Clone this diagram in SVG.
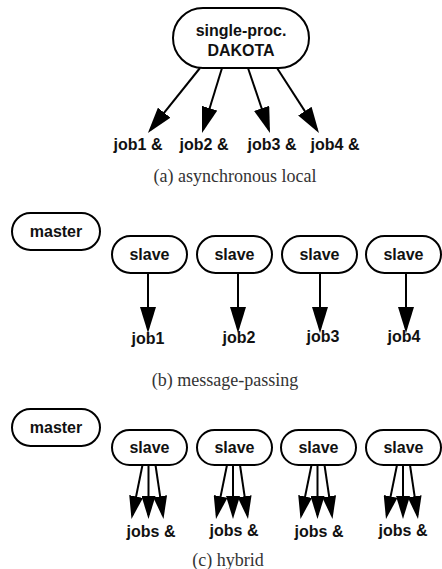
<svg xmlns="http://www.w3.org/2000/svg" width="442" height="569" viewBox="0 0 442 569">
<style>
.node{fill:#fff;stroke:#000;stroke-width:2}
.lbl{font-family:"Liberation Sans",Arial,sans-serif;font-weight:bold;font-size:16px;fill:#111;text-anchor:middle}
.cap{font-family:"Liberation Serif","Times New Roman",serif;font-size:18px;fill:#333;text-anchor:middle}
.edge{stroke:#000;stroke-width:2;fill:none}
.e1{marker-end:url(#ah)}
.e2{marker-end:url(#ah2)}
</style>
<defs>
<marker id="ah" markerUnits="userSpaceOnUse" markerWidth="26" markerHeight="16" viewBox="0 0 26 16" refX="22" refY="8" orient="auto"><path d="M0,0 L26,8 L0,16 z" fill="#000"/></marker>
<marker id="ah2" markerUnits="userSpaceOnUse" markerWidth="23" markerHeight="14" viewBox="0 0 23 14" refX="19" refY="7" orient="auto"><path d="M0,0 L23,7 L0,14 z" fill="#000"/></marker>
</defs>
<rect width="442" height="569" fill="#fff"/>
<g id="connectors">
<line class="edge e1" x1="200" y1="68" x2="150.4" y2="129.8"/>
<line class="edge e1" x1="222" y1="68" x2="203.2" y2="129.2"/>
<line class="edge e1" x1="248" y1="68" x2="268.7" y2="129.2"/>
<line class="edge e1" x1="277" y1="68" x2="316.8" y2="129.6"/>
<line class="edge e1" x1="148" y1="273" x2="148" y2="329"/>
<line class="edge e1" x1="238" y1="273" x2="238" y2="329"/>
<line class="edge e1" x1="320" y1="273" x2="320" y2="329"/>
<line class="edge e1" x1="406" y1="273" x2="406" y2="329"/>
<line class="edge e2" x1="142.5" y1="465" x2="132.3" y2="515.1"/>
<line class="edge e2" x1="148.5" y1="465" x2="148.5" y2="515"/>
<line class="edge e2" x1="155.5" y1="465" x2="162.9" y2="515.1"/>
<line class="edge e2" x1="227" y1="465" x2="216.8" y2="515.1"/>
<line class="edge e2" x1="233" y1="465" x2="233" y2="515"/>
<line class="edge e2" x1="240" y1="465" x2="247.4" y2="515.1"/>
<line class="edge e2" x1="311.5" y1="465" x2="301.3" y2="515.1"/>
<line class="edge e2" x1="317.5" y1="465" x2="317.5" y2="515"/>
<line class="edge e2" x1="324.5" y1="465" x2="331.9" y2="515.1"/>
<line class="edge e2" x1="397" y1="465" x2="386.8" y2="515.1"/>
<line class="edge e2" x1="403" y1="465" x2="403" y2="515"/>
<line class="edge e2" x1="410" y1="465" x2="417.4" y2="515.1"/>
</g>
<g id="dakota"><rect class="node" x="173" y="8" width="136" height="60" rx="30"/><text class="lbl" x="241" y="36">single-proc.</text><text class="lbl" x="241" y="56">DAKOTA</text></g>
<g id="jobs-a">
<text class="lbl" x="138" y="150">job1 &amp;</text>
<text class="lbl" x="204" y="150">job2 &amp;</text>
<text class="lbl" x="272" y="150">job3 &amp;</text>
<text class="lbl" x="335" y="150">job4 &amp;</text>
</g>
<text class="cap" x="235" y="182">(a) asynchronous local</text>
<g id="master-b"><rect class="node" x="12" y="213" width="88" height="37" rx="18.5"/><text class="lbl" x="56" y="237">master</text></g>
<g id="slave-b1"><rect class="node" x="112" y="236" width="75" height="37" rx="18.5"/><text class="lbl" x="149.5" y="260">slave</text></g>
<g id="slave-b2"><rect class="node" x="197" y="236" width="75" height="37" rx="18.5"/><text class="lbl" x="234.5" y="260">slave</text></g>
<g id="slave-b3"><rect class="node" x="282" y="236" width="75" height="37" rx="18.5"/><text class="lbl" x="319.5" y="260">slave</text></g>
<g id="slave-b4"><rect class="node" x="366" y="236" width="75" height="37" rx="18.5"/><text class="lbl" x="403.5" y="260">slave</text></g>
<g id="jobs-b">
<text class="lbl" x="148" y="344">job1</text>
<text class="lbl" x="239" y="343">job2</text>
<text class="lbl" x="323" y="342">job3</text>
<text class="lbl" x="404" y="342">job4</text>
</g>
<text class="cap" x="225" y="386">(b) message-passing</text>
<g id="master-c"><rect class="node" x="12" y="409" width="88" height="37" rx="18.5"/><text class="lbl" x="56" y="433">master</text></g>
<g id="slave-c1"><rect class="node" x="112" y="430" width="75" height="35" rx="17.5"/><text class="lbl" x="149.5" y="453">slave</text></g>
<g id="slave-c2"><rect class="node" x="197" y="430" width="75" height="35" rx="17.5"/><text class="lbl" x="234.5" y="453">slave</text></g>
<g id="slave-c3"><rect class="node" x="281" y="430" width="75" height="35" rx="17.5"/><text class="lbl" x="318.5" y="453">slave</text></g>
<g id="slave-c4"><rect class="node" x="366" y="430" width="75" height="35" rx="17.5"/><text class="lbl" x="403.5" y="453">slave</text></g>
<g id="jobs-c">
<text class="lbl" x="151" y="537">jobs &amp;</text>
<text class="lbl" x="234" y="536">jobs &amp;</text>
<text class="lbl" x="319" y="537">jobs &amp;</text>
<text class="lbl" x="403" y="536">jobs &amp;</text>
</g>
<text class="cap" x="228" y="566">(c) hybrid</text>
</svg>
